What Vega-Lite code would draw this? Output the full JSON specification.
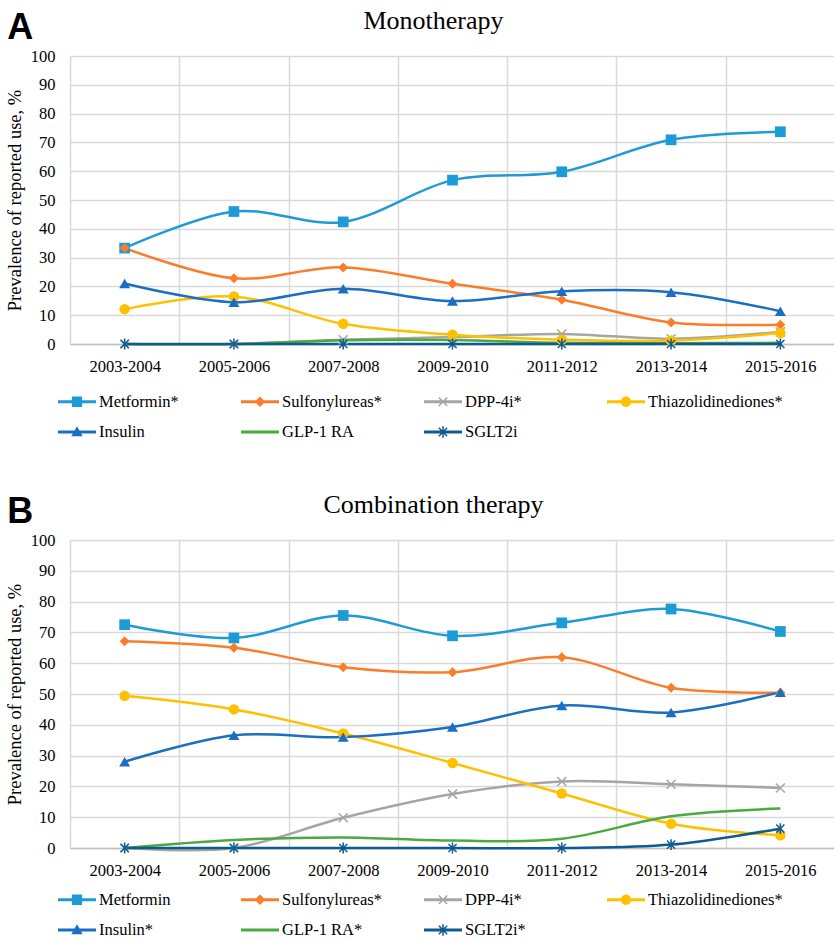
{
  "$schema": "https://vega.github.io/schema/vega-lite/v6.json",
  "padding": {"top": 8, "left": 5, "right": 0, "bottom": 0},
  "datasets": {
    "d": [
      {"panel":"A","series":"Metformin*","period":"2003-2004","value":33.3},
      {"panel":"A","series":"Metformin*","period":"2005-2006","value":46.0},
      {"panel":"A","series":"Metformin*","period":"2007-2008","value":42.4},
      {"panel":"A","series":"Metformin*","period":"2009-2010","value":56.9},
      {"panel":"A","series":"Metformin*","period":"2011-2012","value":59.8},
      {"panel":"A","series":"Metformin*","period":"2013-2014","value":70.9},
      {"panel":"A","series":"Metformin*","period":"2015-2016","value":73.7},
      {"panel":"A","series":"Sulfonylureas*","period":"2003-2004","value":33.3},
      {"panel":"A","series":"Sulfonylureas*","period":"2005-2006","value":22.8},
      {"panel":"A","series":"Sulfonylureas*","period":"2007-2008","value":26.6},
      {"panel":"A","series":"Sulfonylureas*","period":"2009-2010","value":20.9},
      {"panel":"A","series":"Sulfonylureas*","period":"2011-2012","value":15.4},
      {"panel":"A","series":"Sulfonylureas*","period":"2013-2014","value":7.5},
      {"panel":"A","series":"Sulfonylureas*","period":"2015-2016","value":6.7},
      {"panel":"A","series":"DPP-4i*","period":"2003-2004","value":0},
      {"panel":"A","series":"DPP-4i*","period":"2005-2006","value":0},
      {"panel":"A","series":"DPP-4i*","period":"2007-2008","value":1.5},
      {"panel":"A","series":"DPP-4i*","period":"2009-2010","value":2.4},
      {"panel":"A","series":"DPP-4i*","period":"2011-2012","value":3.5},
      {"panel":"A","series":"DPP-4i*","period":"2013-2014","value":1.8},
      {"panel":"A","series":"DPP-4i*","period":"2015-2016","value":4.2},
      {"panel":"A","series":"Thiazolidinediones*","period":"2003-2004","value":12.1},
      {"panel":"A","series":"Thiazolidinediones*","period":"2005-2006","value":16.5},
      {"panel":"A","series":"Thiazolidinediones*","period":"2007-2008","value":7.0},
      {"panel":"A","series":"Thiazolidinediones*","period":"2009-2010","value":3.2},
      {"panel":"A","series":"Thiazolidinediones*","period":"2011-2012","value":1.5},
      {"panel":"A","series":"Thiazolidinediones*","period":"2013-2014","value":1.2},
      {"panel":"A","series":"Thiazolidinediones*","period":"2015-2016","value":3.8},
      {"panel":"A","series":"Insulin","period":"2003-2004","value":21.0},
      {"panel":"A","series":"Insulin","period":"2005-2006","value":14.5},
      {"panel":"A","series":"Insulin","period":"2007-2008","value":19.2},
      {"panel":"A","series":"Insulin","period":"2009-2010","value":14.9},
      {"panel":"A","series":"Insulin","period":"2011-2012","value":18.3},
      {"panel":"A","series":"Insulin","period":"2013-2014","value":18.0},
      {"panel":"A","series":"Insulin","period":"2015-2016","value":11.4},
      {"panel":"A","series":"GLP-1 RA","period":"2003-2004","value":0},
      {"panel":"A","series":"GLP-1 RA","period":"2005-2006","value":0},
      {"panel":"A","series":"GLP-1 RA","period":"2007-2008","value":1.3},
      {"panel":"A","series":"GLP-1 RA","period":"2009-2010","value":1.4},
      {"panel":"A","series":"GLP-1 RA","period":"2011-2012","value":0.4},
      {"panel":"A","series":"GLP-1 RA","period":"2013-2014","value":0.3},
      {"panel":"A","series":"GLP-1 RA","period":"2015-2016","value":0.4},
      {"panel":"A","series":"SGLT2i","period":"2003-2004","value":0},
      {"panel":"A","series":"SGLT2i","period":"2005-2006","value":0},
      {"panel":"A","series":"SGLT2i","period":"2007-2008","value":0},
      {"panel":"A","series":"SGLT2i","period":"2009-2010","value":0},
      {"panel":"A","series":"SGLT2i","period":"2011-2012","value":0},
      {"panel":"A","series":"SGLT2i","period":"2013-2014","value":0},
      {"panel":"A","series":"SGLT2i","period":"2015-2016","value":0},
      {"panel":"B","series":"Metformin","period":"2003-2004","value":72.5},
      {"panel":"B","series":"Metformin","period":"2005-2006","value":68.2},
      {"panel":"B","series":"Metformin","period":"2007-2008","value":75.5},
      {"panel":"B","series":"Metformin","period":"2009-2010","value":68.9},
      {"panel":"B","series":"Metformin","period":"2011-2012","value":73.1},
      {"panel":"B","series":"Metformin","period":"2013-2014","value":77.6},
      {"panel":"B","series":"Metformin","period":"2015-2016","value":70.3},
      {"panel":"B","series":"Sulfonylureas*","period":"2003-2004","value":67.1},
      {"panel":"B","series":"Sulfonylureas*","period":"2005-2006","value":65.0},
      {"panel":"B","series":"Sulfonylureas*","period":"2007-2008","value":58.7},
      {"panel":"B","series":"Sulfonylureas*","period":"2009-2010","value":57.1},
      {"panel":"B","series":"Sulfonylureas*","period":"2011-2012","value":61.9},
      {"panel":"B","series":"Sulfonylureas*","period":"2013-2014","value":52.0},
      {"panel":"B","series":"Sulfonylureas*","period":"2015-2016","value":50.4},
      {"panel":"B","series":"DPP-4i*","period":"2003-2004","value":0},
      {"panel":"B","series":"DPP-4i*","period":"2005-2006","value":0},
      {"panel":"B","series":"DPP-4i*","period":"2007-2008","value":9.8},
      {"panel":"B","series":"DPP-4i*","period":"2009-2010","value":17.5},
      {"panel":"B","series":"DPP-4i*","period":"2011-2012","value":21.6},
      {"panel":"B","series":"DPP-4i*","period":"2013-2014","value":20.7},
      {"panel":"B","series":"DPP-4i*","period":"2015-2016","value":19.5},
      {"panel":"B","series":"Thiazolidinediones*","period":"2003-2004","value":49.4},
      {"panel":"B","series":"Thiazolidinediones*","period":"2005-2006","value":45.0},
      {"panel":"B","series":"Thiazolidinediones*","period":"2007-2008","value":37.2},
      {"panel":"B","series":"Thiazolidinediones*","period":"2009-2010","value":27.6},
      {"panel":"B","series":"Thiazolidinediones*","period":"2011-2012","value":17.7},
      {"panel":"B","series":"Thiazolidinediones*","period":"2013-2014","value":7.9},
      {"panel":"B","series":"Thiazolidinediones*","period":"2015-2016","value":4.1},
      {"panel":"B","series":"Insulin*","period":"2003-2004","value":28.0},
      {"panel":"B","series":"Insulin*","period":"2005-2006","value":36.6},
      {"panel":"B","series":"Insulin*","period":"2007-2008","value":36.0},
      {"panel":"B","series":"Insulin*","period":"2009-2010","value":39.3},
      {"panel":"B","series":"Insulin*","period":"2011-2012","value":46.3},
      {"panel":"B","series":"Insulin*","period":"2013-2014","value":44.0},
      {"panel":"B","series":"Insulin*","period":"2015-2016","value":50.6},
      {"panel":"B","series":"GLP-1 RA*","period":"2003-2004","value":0},
      {"panel":"B","series":"GLP-1 RA*","period":"2005-2006","value":2.6},
      {"panel":"B","series":"GLP-1 RA*","period":"2007-2008","value":3.4},
      {"panel":"B","series":"GLP-1 RA*","period":"2009-2010","value":2.4},
      {"panel":"B","series":"GLP-1 RA*","period":"2011-2012","value":3.0},
      {"panel":"B","series":"GLP-1 RA*","period":"2013-2014","value":10.3},
      {"panel":"B","series":"GLP-1 RA*","period":"2015-2016","value":12.8},
      {"panel":"B","series":"SGLT2i*","period":"2003-2004","value":0},
      {"panel":"B","series":"SGLT2i*","period":"2005-2006","value":0},
      {"panel":"B","series":"SGLT2i*","period":"2007-2008","value":0},
      {"panel":"B","series":"SGLT2i*","period":"2009-2010","value":0},
      {"panel":"B","series":"SGLT2i*","period":"2011-2012","value":0},
      {"panel":"B","series":"SGLT2i*","period":"2013-2014","value":1.1},
      {"panel":"B","series":"SGLT2i*","period":"2015-2016","value":6.3}
    ]
  },
  "data": {"name": "d"},
  "spacing": 51,
  "resolve": {"scale": {"x": "independent", "y": "independent", "color": "independent", "shape": "independent", "stroke": "independent"}, "legend": {"color": "independent", "shape": "independent"}},
  "vconcat": [
    {
      "title": {"text": "A", "font": "Liberation Sans", "fontSize": 36, "fontWeight": "bold", "anchor": "start", "frame": "bounds", "baseline": "alphabetic", "offset": 0, "dy": 67, "dx": 2, "color": "#000"},
      "resolve": {"scale": {"color": "independent", "shape": "independent", "stroke": "independent"}, "legend": {"color": "independent", "shape": "independent"}},
      "vconcat": [
        {
          "width": 765, "height": 288,
          "title": {"text": "Monotherapy", "font": "Liberation Serif", "fontSize": 26, "fontWeight": "normal", "anchor": "middle", "dx": -19, "offset": -7, "baseline": "alphabetic", "color": "#000"},
          "transform": [{"filter": "datum.panel === 'A'"}],
          "encoding": {
            "x": {"field": "period", "type": "ordinal", "scale": {"paddingInner": 0, "paddingOuter": 0},
                  "axis": {"title": null, "labelAngle": 0, "grid": true, "tickBand": "extent", "labelPadding": 14.5, "labelFont": "Liberation Serif", "labelFontSize": 16.5, "domain": true, "domainColor": "#bfbfbf", "domainWidth": 1.5}},
            "y": {"field": "value", "type": "quantitative", "scale": {"domain": [0, 100]},
                  "axis": {"title": "Prevalence of reported use, %", "values": [0,10,20,30,40,50,60,70,80,90,100], "labelFont": "Liberation Serif", "labelFontSize": 16.5, "titleFont": "Liberation Serif", "titleFontSize": 18.5, "labelPadding": 15, "titlePadding": 6}}
          },
          "layer": [
            {"mark": {"type": "line", "interpolate": "cardinal", "tension": 0, "strokeWidth": 2.5},
             "encoding": {"stroke": {"field": "series", "type": "nominal", "scale": {"domain": ["SGLT2i","GLP-1 RA","Insulin","Thiazolidinediones*","DPP-4i*","Sulfonylureas*","Metformin*"], "range": ["#0e5b91","#4aa93f","#1b6ec2","#ffc000","#a5a5a5","#fb7d2b","#1e9bd7"]}, "legend": null}}},
            {"transform": [{"filter": "datum.series === 'Metformin*'"}], "mark": {"type": "point", "shape": "square", "filled": true, "opacity": 1, "size": 115, "color": "#1e9bd7"}},
            {"transform": [{"filter": "datum.series === 'Sulfonylureas*'"}], "mark": {"type": "point", "shape": "diamond", "filled": true, "opacity": 1, "size": 100, "color": "#fb7d2b"}},
            {"transform": [{"filter": "datum.series === 'DPP-4i*'"}], "mark": {"type": "point", "shape": "M-1,-1L1,1M-1,1L1,-1", "filled": false, "opacity": 1, "size": 81, "strokeWidth": 1.5, "color": "#a5a5a5"}},
            {"transform": [{"filter": "datum.series === 'Thiazolidinediones*'"}], "mark": {"type": "point", "shape": "circle", "filled": true, "opacity": 1, "size": 110, "color": "#ffc000"}},
            {"transform": [{"filter": "datum.series === 'Insulin'"}], "mark": {"type": "point", "shape": "triangle-up", "filled": true, "opacity": 1, "size": 120, "color": "#1b6ec2"}},
            {"transform": [{"filter": "datum.series === 'SGLT2i'"}], "mark": {"type": "point", "shape": "M-0.9,-0.9L0.9,0.9M-0.9,0.9L0.9,-0.9M0,-1.2L0,1.2", "filled": false, "opacity": 1, "size": 81, "strokeWidth": 1.5, "color": "#0e5b91"}},
            {"mark": {"type": "point", "filled": true, "opacity": 0},
             "encoding": {
               "color": {"field": "series", "type": "nominal", "scale": {"domain": ["Metformin*","Sulfonylureas*","DPP-4i*","Thiazolidinediones*","Insulin","GLP-1 RA","SGLT2i"], "range": ["#1e9bd7","#fb7d2b","#a5a5a5","#ffc000","#1b6ec2","#4aa93f","#0e5b91"]}, "legend": {"title": null, "legendX": -12, "legendY": 326.5}},
               "shape": {"field": "series", "type": "nominal", "scale": {"domain": ["Metformin*","Sulfonylureas*","DPP-4i*","Thiazolidinediones*","Insulin","GLP-1 RA","SGLT2i"], "range": [
                 "M-1,-0.075H1V0.075H-1ZM-0.27,-0.27H0.27V0.27H-0.27Z",
                 "M-1,-0.075H1V0.075H-1ZM-0.28,0L0,-0.28L0.28,0L0,0.28Z",
                 "M-1,-0.075H1V0.075H-1ZM-0.192,-0.248L0.248,0.192L0.192,0.248L-0.248,-0.192ZM0.248,-0.192L-0.192,0.248L-0.248,0.192L0.192,-0.248Z",
                 "M-1,-0.075H1V0.075H-1ZM-0.27,0A0.27,0.27,0,0,1,0.27,0A0.27,0.27,0,0,1,-0.27,0Z",
                 "M-1,-0.075H1V0.075H-1ZM0,-0.3L0.3,0.22L-0.3,0.22Z",
                 "M-1,-0.075H1V0.075H-1Z",
                 "M-1,-0.075H1V0.075H-1ZM-0.192,-0.248L0.248,0.192L0.192,0.248L-0.248,-0.192ZM0.248,-0.192L-0.192,0.248L-0.248,0.192L0.192,-0.248ZM-0.04,-0.3H0.04V0.3H-0.04Z"
               ]}, "legend": {"title": null, "legendX": -12, "legendY": 326.5}}
             }}
          ]
        }
      ]
    },
    {
      "title": {"text": "B", "font": "Liberation Sans", "fontSize": 36, "fontWeight": "bold", "anchor": "start", "frame": "bounds", "baseline": "alphabetic", "offset": 0, "dy": 67, "dx": 2, "color": "#000"},
      "resolve": {"scale": {"color": "independent", "shape": "independent", "stroke": "independent"}, "legend": {"color": "independent", "shape": "independent"}},
      "vconcat": [
        {
          "width": 765, "height": 308,
          "title": {"text": "Combination therapy", "font": "Liberation Serif", "fontSize": 26, "fontWeight": "normal", "anchor": "middle", "dx": -19, "offset": -7, "baseline": "alphabetic", "color": "#000"},
          "transform": [{"filter": "datum.panel === 'B'"}],
          "encoding": {
            "x": {"field": "period", "type": "ordinal", "scale": {"paddingInner": 0, "paddingOuter": 0},
                  "axis": {"title": null, "labelAngle": 0, "grid": true, "tickBand": "extent", "labelPadding": 14.5, "labelFont": "Liberation Serif", "labelFontSize": 16.5, "domain": true, "domainColor": "#bfbfbf", "domainWidth": 1.5}},
            "y": {"field": "value", "type": "quantitative", "scale": {"domain": [0, 100]},
                  "axis": {"title": "Prevalence of reported use, %", "values": [0,10,20,30,40,50,60,70,80,90,100], "labelFont": "Liberation Serif", "labelFontSize": 16.5, "titleFont": "Liberation Serif", "titleFontSize": 18.5, "labelPadding": 15, "titlePadding": 6}}
          },
          "layer": [
            {"mark": {"type": "line", "interpolate": "cardinal", "tension": 0, "strokeWidth": 2.5},
             "encoding": {"stroke": {"field": "series", "type": "nominal", "scale": {"domain": ["SGLT2i*","GLP-1 RA*","Insulin*","Thiazolidinediones*","DPP-4i*","Sulfonylureas*","Metformin"], "range": ["#0e5b91","#4aa93f","#1b6ec2","#ffc000","#a5a5a5","#fb7d2b","#1e9bd7"]}, "legend": null}}},
            {"transform": [{"filter": "datum.series === 'Metformin'"}], "mark": {"type": "point", "shape": "square", "filled": true, "opacity": 1, "size": 115, "color": "#1e9bd7"}},
            {"transform": [{"filter": "datum.series === 'Sulfonylureas*'"}], "mark": {"type": "point", "shape": "diamond", "filled": true, "opacity": 1, "size": 100, "color": "#fb7d2b"}},
            {"transform": [{"filter": "datum.series === 'DPP-4i*'"}], "mark": {"type": "point", "shape": "M-1,-1L1,1M-1,1L1,-1", "filled": false, "opacity": 1, "size": 81, "strokeWidth": 1.5, "color": "#a5a5a5"}},
            {"transform": [{"filter": "datum.series === 'Thiazolidinediones*'"}], "mark": {"type": "point", "shape": "circle", "filled": true, "opacity": 1, "size": 110, "color": "#ffc000"}},
            {"transform": [{"filter": "datum.series === 'Insulin*'"}], "mark": {"type": "point", "shape": "triangle-up", "filled": true, "opacity": 1, "size": 120, "color": "#1b6ec2"}},
            {"transform": [{"filter": "datum.series === 'SGLT2i*'"}], "mark": {"type": "point", "shape": "M-0.9,-0.9L0.9,0.9M-0.9,0.9L0.9,-0.9M0,-1.2L0,1.2", "filled": false, "opacity": 1, "size": 81, "strokeWidth": 1.5, "color": "#0e5b91"}},
            {"mark": {"type": "point", "filled": true, "opacity": 0},
             "encoding": {
               "color": {"field": "series", "type": "nominal", "scale": {"domain": ["Metformin","Sulfonylureas*","DPP-4i*","Thiazolidinediones*","Insulin*","GLP-1 RA*","SGLT2i*"], "range": ["#1e9bd7","#fb7d2b","#a5a5a5","#ffc000","#1b6ec2","#4aa93f","#0e5b91"]}, "legend": {"title": null, "legendX": -12, "legendY": 340.5}},
               "shape": {"field": "series", "type": "nominal", "scale": {"domain": ["Metformin","Sulfonylureas*","DPP-4i*","Thiazolidinediones*","Insulin*","GLP-1 RA*","SGLT2i*"], "range": [
                 "M-1,-0.075H1V0.075H-1ZM-0.27,-0.27H0.27V0.27H-0.27Z",
                 "M-1,-0.075H1V0.075H-1ZM-0.28,0L0,-0.28L0.28,0L0,0.28Z",
                 "M-1,-0.075H1V0.075H-1ZM-0.192,-0.248L0.248,0.192L0.192,0.248L-0.248,-0.192ZM0.248,-0.192L-0.192,0.248L-0.248,0.192L0.192,-0.248Z",
                 "M-1,-0.075H1V0.075H-1ZM-0.27,0A0.27,0.27,0,0,1,0.27,0A0.27,0.27,0,0,1,-0.27,0Z",
                 "M-1,-0.075H1V0.075H-1ZM0,-0.3L0.3,0.22L-0.3,0.22Z",
                 "M-1,-0.075H1V0.075H-1Z",
                 "M-1,-0.075H1V0.075H-1ZM-0.192,-0.248L0.248,0.192L0.192,0.248L-0.248,-0.192ZM0.248,-0.192L-0.192,0.248L-0.248,0.192L0.192,-0.248ZM-0.04,-0.3H0.04V0.3H-0.04Z"
               ]}, "legend": {"title": null, "legendX": -12, "legendY": 340.5}}
             }}
          ]
        }
      ]
    }
  ],
  "config": {
    "font": "Liberation Serif",
    "view": {"stroke": null},
    "axis": {"labelFont": "Liberation Serif", "labelFontSize": 16.5, "labelColor": "#000", "titleFont": "Liberation Serif", "titleFontSize": 18.5, "titleFontWeight": "normal", "titleColor": "#000", "gridColor": "#d9d9d9", "gridWidth": 1.5, "ticks": false, "domain": false},
    "legend": {"orient": "none", "direction": "horizontal", "columns": 4, "gridAlign": "all", "columnPadding": 7, "rowPadding": 2.5, "symbolSize": 1444, "symbolStrokeWidth": 0, "symbolOpacity": 1, "labelFont": "Liberation Serif", "labelFontSize": 16.5, "labelColor": "#000", "labelOffset": 3, "labelLimit": 300, "padding": 0}
  }
}
